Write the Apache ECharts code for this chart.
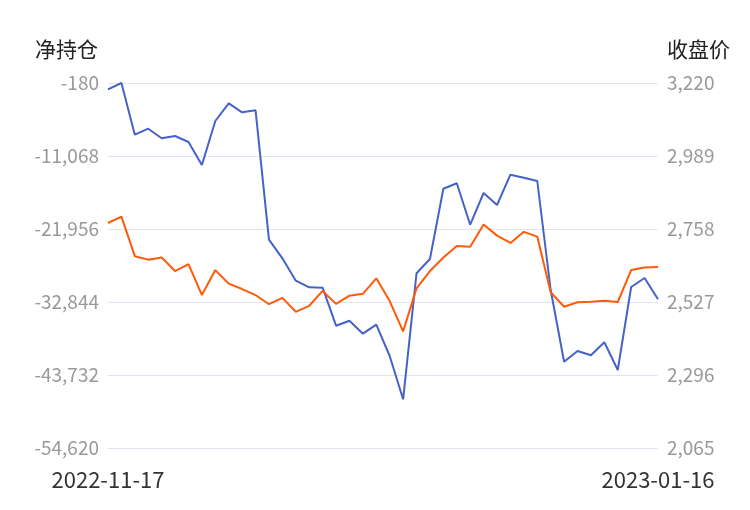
<!DOCTYPE html>
<html>
<head>
<meta charset="utf-8">
<script src="https://cdn.jsdelivr.net/npm/echarts@6/dist/echarts.min.js"></script>
<style>html,body{margin:0;padding:0;background:#fff}#c{width:750px;height:510px}</style>
</head>
<body>
<div id="c"></div>
<script>
const dates = [
  '2022-11-17','2022-11-18','2022-11-21','2022-11-22','2022-11-23','2022-11-24','2022-11-25','2022-11-28','2022-11-29','2022-11-30',
  '2022-12-01','2022-12-02','2022-12-05','2022-12-06','2022-12-07','2022-12-08','2022-12-09','2022-12-12','2022-12-13','2022-12-14',
  '2022-12-15','2022-12-16','2022-12-19','2022-12-20','2022-12-21','2022-12-22','2022-12-23','2022-12-26','2022-12-27','2022-12-28',
  '2022-12-29','2022-12-30','2023-01-03','2023-01-04','2023-01-05','2023-01-06','2023-01-09','2023-01-10','2023-01-11','2023-01-12',
  '2023-01-13','2023-01-16'
];
const netPosition = [
  -1120, -180, -7891, -6996, -8428, -8085, -8980, -12410, -5848, -3208,
  -4550, -4252, -23552, -26326, -29667, -30651, -30711, -36379, -35633, -37572,
  -36230, -40898, -47356, -28563, -26430, -15945, -15140, -21315, -16586, -18376,
  -13857, -14304, -14797, -31054, -41748, -40152, -40794, -38855, -42986, -30607,
  -29264, -32441
];
const closePrice = [
  2777, 2797, 2672, 2661, 2668, 2625, 2647, 2549, 2628, 2585,
  2568, 2549, 2520, 2540, 2496, 2515, 2562, 2521, 2547, 2553,
  2602, 2530, 2434, 2570, 2625, 2668, 2704, 2702, 2772, 2737,
  2714, 2749, 2734, 2558, 2512, 2526, 2528, 2531, 2527, 2628,
  2636, 2638
];
const leftAxis = { min: -54620, max: -180, interval: 10888 };
const rightAxis = { min: 2065, max: 3220, interval: 231 };

const FONT = '"Noto Sans CJK SC", "Noto Sans", sans-serif';
const chart = echarts.init(document.getElementById('c'), null, { renderer: 'canvas' });
chart.setOption({
  animation: false,
  grid: { left: 108, right: 92, top: 83, bottom: 62, containLabel: false },
  xAxis: {
    type: 'category',
    data: dates,
    boundaryGap: false,
    axisLine: { show: false },
    axisTick: { show: false },
    axisLabel: {
      interval: function (i) { return i === 0 || i === dates.length - 1; },
      color: '#333',
      fontSize: 22,
      fontFamily: FONT,
      margin: 21
    },
    splitLine: { show: false }
  },
  yAxis: [
    {
      type: 'value',
      name: '净持仓',
      nameLocation: 'end',
      nameGap: 23,
      nameTextStyle: { color: '#222', fontSize: 21, fontFamily: FONT, align: 'right', padding: [0, 10, 0, 0] },
      min: leftAxis.min, max: leftAxis.max, interval: leftAxis.interval,
      axisLine: { show: false },
      axisTick: { show: false },
      axisLabel: { color: '#999', fontSize: 19, fontFamily: FONT, margin: 9 },
      splitLine: { lineStyle: { color: '#E0E6F1' } }
    },
    {
      type: 'value',
      name: '收盘价',
      nameLocation: 'end',
      nameGap: 23,
      nameTextStyle: { color: '#222', fontSize: 21, fontFamily: FONT, align: 'left', padding: [0, 0, 0, 9] },
      min: rightAxis.min, max: rightAxis.max, interval: rightAxis.interval,
      axisLine: { show: false },
      axisTick: { show: false },
      axisLabel: { color: '#999', fontSize: 19, fontFamily: FONT, margin: 9 },
      splitLine: { show: false }
    }
  ],
  series: [
    {
      name: '净持仓', type: 'line', yAxisIndex: 0, data: netPosition,
      showSymbol: false, lineStyle: { color: '#4662C8', width: 2 }, itemStyle: { color: '#4662C8' }
    },
    {
      name: '收盘价', type: 'line', yAxisIndex: 1, data: closePrice,
      showSymbol: false, lineStyle: { color: '#FF5A0A', width: 2 }, itemStyle: { color: '#FF5A0A' }
    }
  ]
});
</script>
</body>
</html>
